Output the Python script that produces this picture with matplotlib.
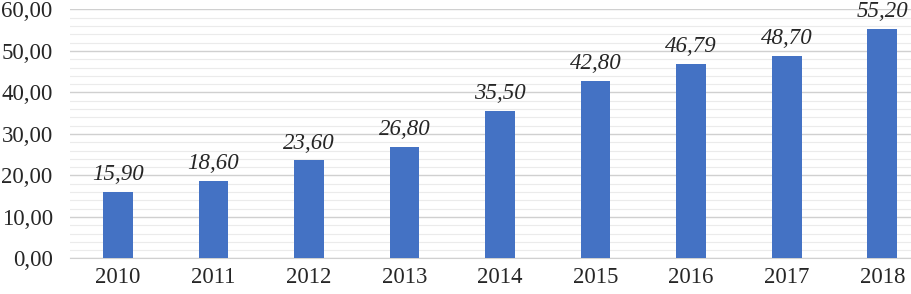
import numpy as np
import matplotlib.pyplot as plt
from matplotlib.ticker import MultipleLocator, FuncFormatter

# Data
years = ['2010', '2011', '2012', '2013', '2014', '2015', '2016', '2017', '2018']
values = [15.90, 18.60, 23.60, 26.80, 35.50, 42.80, 46.79, 48.70, 55.20]

plt.rcParams['font.family'] = ['Liberation Serif', 'DejaVu Serif']

fig = plt.figure(figsize=(9.12, 2.94), dpi=100)
ax = fig.add_axes([0.0768, 0.121, 0.943, 0.847])

x = np.arange(len(years))
ax.bar(x, values, width=0.31, color='#4472C4', zorder=3)

for xi, v in zip(x, values):
    ax.annotate(f'{v:.2f}'.replace('.', ','), (xi, v), xytext=(0, 5),
                textcoords='offset points', ha='center', va='bottom',
                fontsize=16.5, style='italic', color='#262626')

ax.set_xlim(-0.5, len(years) - 0.5)
ax.set_ylim(0, 60)
ax.set_xticks(x)
ax.set_xticklabels(years)
ax.yaxis.set_major_locator(MultipleLocator(10))
ax.yaxis.set_minor_locator(MultipleLocator(2))
ax.yaxis.set_major_formatter(FuncFormatter(lambda v, p: f'{v:.2f}'.replace('.', ',')))

ax.grid(axis='y', which='major', color='#d0d0d0', linewidth=1.0, zorder=0)
ax.grid(axis='y', which='minor', color='#ebebeb', linewidth=0.8, zorder=0)

for s in ['top', 'right', 'left']:
    ax.spines[s].set_visible(False)
ax.spines['bottom'].set_color('#d0d0d0')

ax.tick_params(axis='both', which='both', length=0, labelsize=16.5, colors='#262626')
ax.tick_params(axis='y', pad=12.5)
ax.tick_params(axis='x', pad=6)

fig.savefig('out.png', dpi=100)
